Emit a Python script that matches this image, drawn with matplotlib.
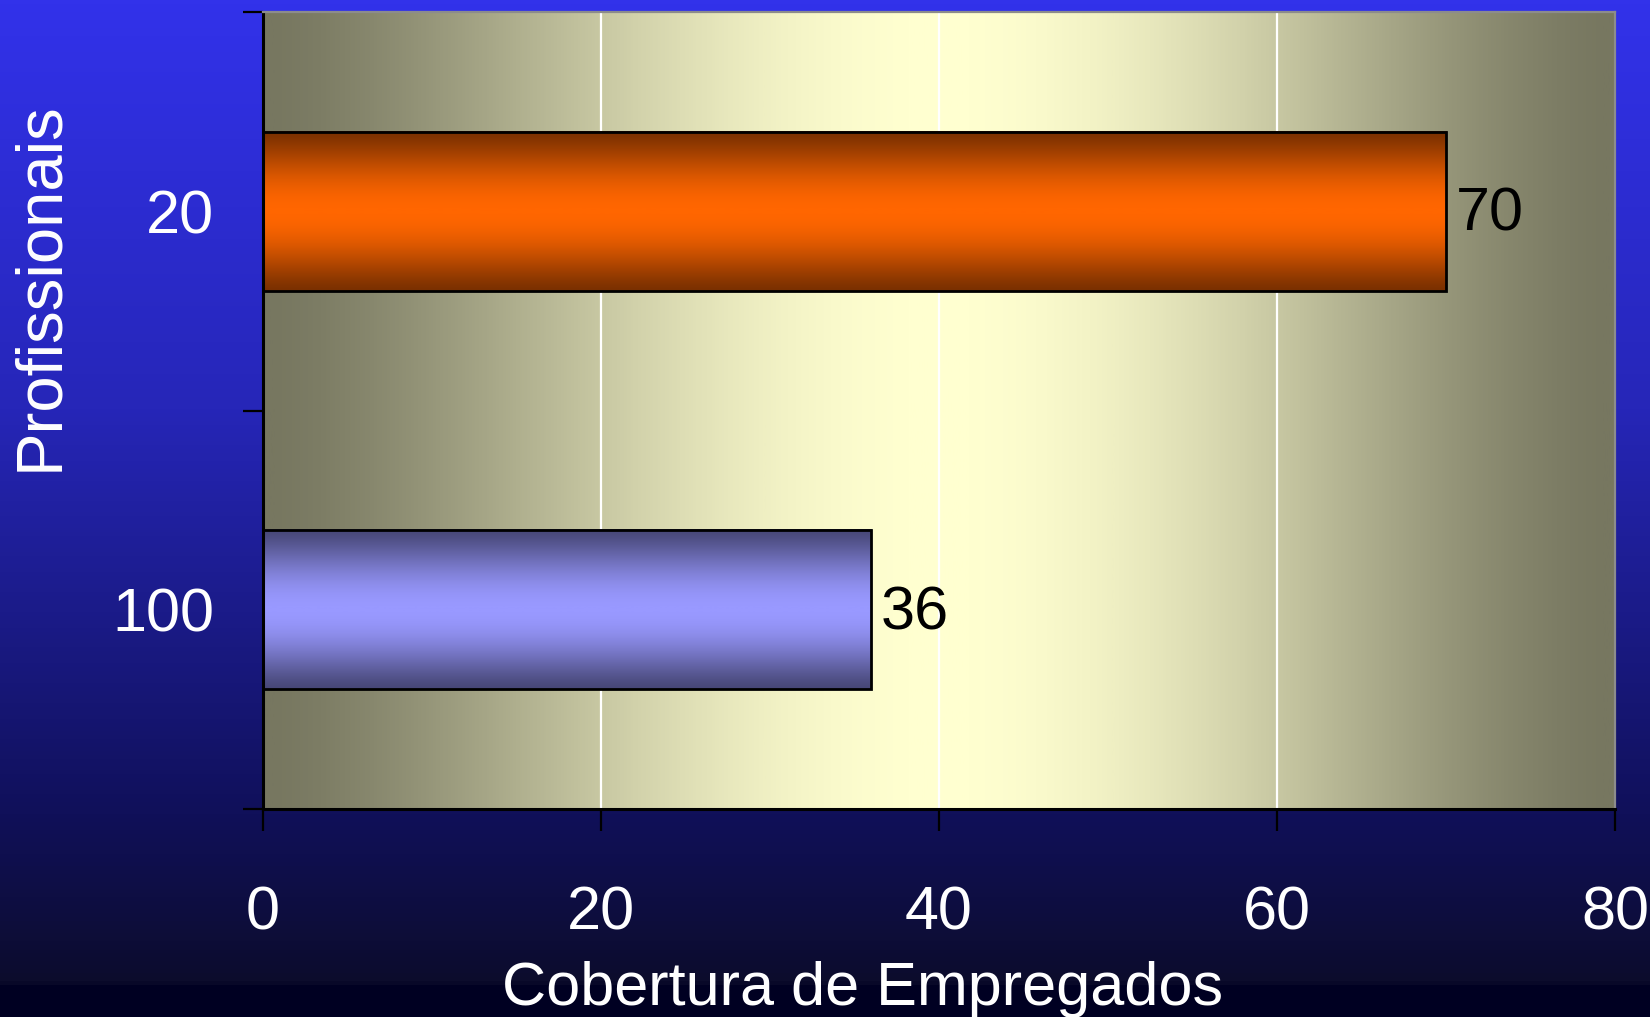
import numpy as np
import matplotlib
matplotlib.use('Agg')
import matplotlib.pyplot as plt
from matplotlib.colors import LinearSegmentedColormap

# dados do gráfico
categorias = ['20', '100']
cobertura = [70, 36]
cores_borda = ['#7a3000', '#474777']
cores_centro = ['#ff6600', '#9999ff']
xticks = [0, 20, 40, 60, 80]
titulo_x = 'Cobertura de Empregados'
titulo_y = 'Profissionais'

plt.rcParams['font.family'] = ['Liberation Sans', 'DejaVu Sans']
FS = 44     # textos horizontais
FS_Y = 47   # título vertical

fig = plt.figure(figsize=(16.5, 10.17), dpi=100)

# fundo do slide (degradê vertical azul)
bg = fig.add_axes([0, 0, 1, 1], zorder=-10)
bg_cmap = LinearSegmentedColormap.from_list('fundo', [
    (0, '#3232ea'), (0.4, '#2626b8'), (0.8, '#10105a'),
    (0.968, '#0c0c2c'), (0.97, '#000022'), (1, '#000022')])
bg.imshow(np.linspace(0, 1, 1017).reshape(-1, 1), aspect='auto', cmap=bg_cmap,
          extent=[0, 1, 0, 1], origin='upper', vmin=0, vmax=1)
bg.set_xlim(0, 1)
bg.set_ylim(0, 1)
bg.axis('off')

# área do gráfico
ax = fig.add_axes([263 / 1650, 1 - 809 / 1017, (1615 - 263) / 1650, (809 - 12) / 1017])
t = np.linspace(0, 1, 512)
perfil = np.sin(np.pi * t)
area_cmap = LinearSegmentedColormap.from_list('area', ['#777760', '#ffffd0'])
ax.imshow((perfil ** 1.5).reshape(1, -1), aspect='auto', cmap=area_cmap, vmin=0, vmax=1,
          extent=[0, 80, 1.5, -0.5], zorder=0)

# grade vertical
for g in xticks[1:-1]:
    ax.axvline(g, color='white', lw=1.6, zorder=1)

# barras com degradê
y = np.arange(len(categorias))
barras = ax.barh(y, cobertura, height=0.4, facecolor='none', edgecolor='black',
                 linewidth=2, zorder=3)
for b, c1, c2 in zip(barras, cores_borda, cores_centro):
    cm = LinearSegmentedColormap.from_list('barra', [c1, c2])
    x0, y0, w, h = b.get_x(), b.get_y(), b.get_width(), b.get_height()
    ax.imshow(perfil.reshape(-1, 1) ** 1.3, aspect='auto', cmap=cm, vmin=0, vmax=1,
              extent=[x0, x0 + w, y0 + h, y0], zorder=2)

for i, v in enumerate(cobertura):
    ax.annotate(str(v), (v, i), xytext=(7, -3), textcoords='offset points',
                ha='left', va='center', fontsize=FS, color='black', zorder=4)

ax.set_xlim(0, 80)
ax.set_ylim(1.5, -0.5)

ax.set_xticks(xticks)
ax.set_xticklabels([str(v) for v in xticks])
ax.tick_params(axis='x', length=16, width=1.6, color='black', pad=39,
               labelsize=FS, labelcolor='white')

ax.set_yticks([-0.5, 0.5, 1.5])
ax.set_yticklabels([])
ax.set_yticks(y, minor=True)
ax.set_yticklabels(categorias, minor=True)
ax.tick_params(axis='y', which='major', length=14.5, width=1.6, color='black')
ax.tick_params(axis='y', which='minor', length=0, pad=35, labelsize=FS, labelcolor='white')

for s in ['left', 'bottom']:
    ax.spines[s].set_color('black')
    ax.spines[s].set_linewidth(2.2)
for s in ['top', 'right']:
    ax.spines[s].set_color('#8c8c8c')
    ax.spines[s].set_linewidth(1.6)

# títulos dos eixos
fig.text(863 / 1650, 1 - 1005 / 1017, titulo_x, ha='center', va='baseline',
         color='white', fontsize=FS)
fig.text(57 / 1650, 1 - 286 / 1017, titulo_y, rotation=90, rotation_mode='anchor',
         ha='center', va='baseline', color='white', fontsize=FS_Y)

fig.savefig('out.png', dpi=100)
